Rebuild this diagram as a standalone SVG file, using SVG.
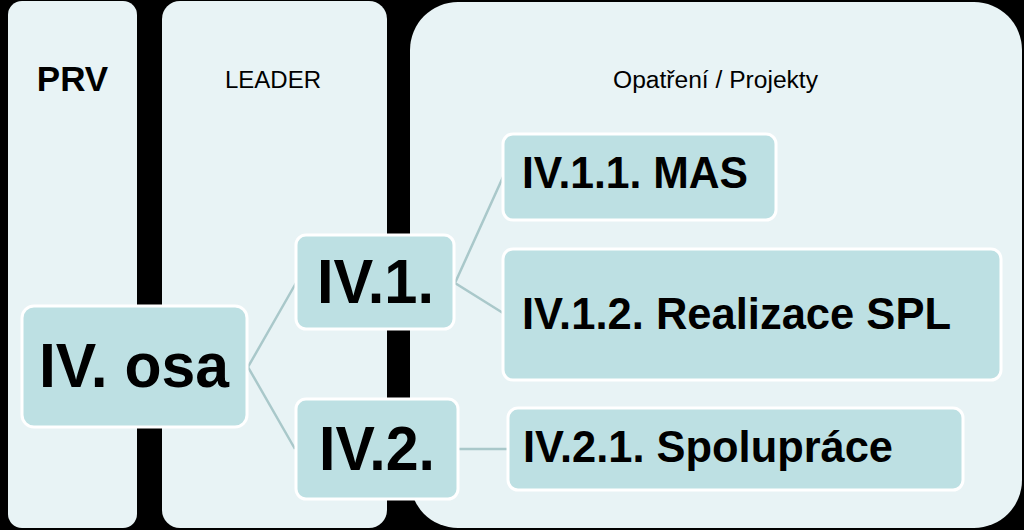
<svg xmlns="http://www.w3.org/2000/svg" width="1024" height="530" viewBox="0 0 1024 530">
<style>
.col{fill:#e8f3f5}
.node{fill:#bde0e3;stroke:#ffffff;stroke-width:3}
.conn{stroke:#a9c8ca;stroke-width:2.5;fill:none}
.big{font-family:"Liberation Sans",Arial,sans-serif;font-weight:bold;font-size:63px;fill:#000}
.mid{font-family:"Liberation Sans",Arial,sans-serif;font-weight:bold;font-size:45px;fill:#000}
.hdr{font-family:"Liberation Sans",Arial,sans-serif;fill:#000}
</style>
<rect x="0" y="0" width="1024" height="530" fill="#000"/>
<g id="col-prv">
<rect class="col" x="8" y="1" width="129" height="527" rx="14"/>
<text class="hdr" x="72.5" y="91" font-size="35" font-weight="bold" text-anchor="middle">PRV</text>
</g>
<g id="col-leader">
<rect class="col" x="162" y="1" width="225" height="527" rx="18"/>
<text class="hdr" x="273" y="88" font-size="24" text-anchor="middle">LEADER</text>
</g>
<g id="col-opatreni">
<rect class="col" x="410" y="2" width="612" height="526" rx="48"/>
<text class="hdr" x="613" y="88" font-size="23" textLength="205" lengthAdjust="spacingAndGlyphs">Opatření / Projekty</text>
</g>
<g id="connectors">
<polyline class="conn" points="296,283 248,367 295,449"/>
<polyline class="conn" points="503,177 455,283 503,313"/>
<line class="conn" x1="458" y1="449" x2="508" y2="449"/>
</g>
<g id="n-osa">
<rect class="node" x="22" y="306" width="225" height="121" rx="12"/>
<text class="big" x="39" y="387" textLength="190" lengthAdjust="spacingAndGlyphs">IV. osa</text>
</g>
<g id="n-iv1">
<rect class="node" x="296" y="235" width="158" height="94" rx="10"/>
<text class="big" x="317" y="303" textLength="117" lengthAdjust="spacingAndGlyphs">IV.1.</text>
</g>
<g id="n-iv2">
<rect class="node" x="296" y="399" width="162" height="100" rx="10"/>
<text class="big" x="319" y="470" textLength="116" lengthAdjust="spacingAndGlyphs">IV.2.</text>
</g>
<g id="n-iv11">
<rect class="node" x="503" y="134" width="273" height="86" rx="10"/>
<text class="mid" x="522" y="188" font-size="40" textLength="226" lengthAdjust="spacingAndGlyphs">IV.1.1. MAS</text>
</g>
<g id="n-iv12">
<rect class="node" x="503" y="249" width="498" height="131" rx="10"/>
<text class="mid" x="522" y="329" textLength="429" lengthAdjust="spacingAndGlyphs">IV.1.2. Realizace SPL</text>
</g>
<g id="n-iv21">
<rect class="node" x="508" y="408" width="455" height="82" rx="10"/>
<text class="mid" x="523" y="462" textLength="370" lengthAdjust="spacingAndGlyphs">IV.2.1. Spolupráce</text>
</g>
</svg>
